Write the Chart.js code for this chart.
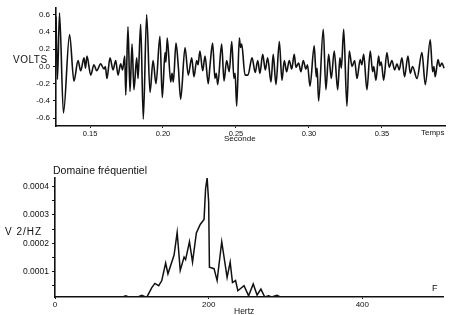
<!DOCTYPE html>
<html>
<head>
<meta charset="utf-8">
<script src="https://cdn.jsdelivr.net/npm/chart.js@4/dist/chart.umd.min.js"></script>
<style>
  body { margin: 0; background: #fff; }
  #wrap { position: relative; width: 460px; height: 315px; overflow: hidden; font-family: "Liberation Sans", Arial, sans-serif; color: #111; }
  canvas { position: absolute; left: 0; }
  .lbl { position: absolute; font-size: 9px; line-height: 1; white-space: nowrap; }
</style>
</head>
<body>
<div id="wrap">
  <canvas id="timeChart" width="460" height="140" style="top:0"></canvas>
  <canvas id="freqChart" width="460" height="175" style="top:140px"></canvas>
  <div class="lbl" style="left:13px;top:55px;font-size:10px;letter-spacing:0.5px">VOLTS</div>
  <div class="lbl" style="left:421px;top:129px;font-size:8px">Temps</div>
  <div class="lbl" style="left:224px;top:135px;font-size:8px">Seconde</div>
  <div class="lbl" style="left:53px;top:165px;font-size:10.5px">Domaine fréquentiel</div>
  <div class="lbl" style="left:5px;top:227px;font-size:10px;letter-spacing:1px">V 2/HZ</div>
  <div class="lbl" style="left:234px;top:307px;font-size:8.5px">Hertz</div>
  <div class="lbl" style="left:432px;top:284px;font-size:9px">F</div>
</div>
<script>
// time domain signal (seconds, volts)
const tTimes = [
  0.1267, 0.1277, 0.1291, 0.1318, 0.1360, 0.1390, 0.1418, 0.1436, 0.1459, 0.1469,
  0.1479, 0.1505, 0.1527, 0.1546, 0.1573, 0.1596, 0.1605, 0.1616, 0.1637, 0.1658,
  0.1676, 0.1692, 0.1710, 0.1723, 0.1738, 0.1745, 0.1760, 0.1774, 0.1788, 0.1801,
  0.1820, 0.1829, 0.1847, 0.1865, 0.1888, 0.1911, 0.1932, 0.1952, 0.1979, 0.1995,
  0.2014, 0.2020, 0.2029, 0.2053, 0.2062, 0.2071, 0.2089, 0.2105, 0.2121, 0.2151,
  0.2173, 0.2197, 0.2212, 0.2231, 0.2240, 0.2253, 0.2272, 0.2288, 0.2310, 0.2322,
  0.2340, 0.2356, 0.2365, 0.2375, 0.2402, 0.2418, 0.2436, 0.2454, 0.2471, 0.2486,
  0.2494, 0.2505, 0.2523, 0.2531, 0.2539, 0.2562, 0.2582, 0.2610, 0.2632, 0.2649,
  0.2664, 0.2683, 0.2701, 0.2717, 0.2740, 0.2755, 0.2774, 0.2797, 0.2815, 0.2831,
  0.2847, 0.2865, 0.2882, 0.2899, 0.2911, 0.2929, 0.2945, 0.2961, 0.2979, 0.2990,
  0.3007, 0.3036, 0.3050, 0.3056, 0.3066, 0.3098, 0.3116, 0.3135, 0.3153, 0.3173,
  0.3197, 0.3212, 0.3222, 0.3238, 0.3260, 0.3276, 0.3295, 0.3313, 0.3329, 0.3351,
  0.3362, 0.3375, 0.3397, 0.3420, 0.3436, 0.3444, 0.3459, 0.3477, 0.3486, 0.3495,
  0.3512, 0.3534, 0.3550, 0.3568, 0.3587, 0.3603, 0.3618, 0.3637, 0.3655, 0.3678,
  0.3694, 0.3710, 0.3740, 0.3774, 0.3797, 0.3831, 0.3847, 0.3856, 0.3865, 0.3884,
  0.3897, 0.3911, 0.3925
];
const tVolts = [
  0.58, -0.15, 0.62, -0.54, 0.37, -0.17, 0.07, -0.05, 0.10, -0.02,
  0.12, -0.10, 0.02, -0.05, 0.03, -0.03, 0.00, -0.14, 0.10, -0.04,
  0.07, -0.10, 0.03, -0.04, 0.12, -0.33, 0.46, -0.29, 0.26, -0.27,
  0.10, -0.14, 0.49, -0.61, 0.60, -0.30, 0.07, -0.20, 0.35, -0.36,
  0.16, 0.05, 0.33, -0.18, -0.08, -0.18, 0.27, 0.00, -0.38, 0.22,
  -0.10, 0.10, -0.12, 0.07, 0.02, 0.18, -0.05, 0.12, -0.20, 0.01,
  0.27, -0.14, -0.08, -0.21, 0.26, -0.17, 0.07, -0.06, 0.29, -0.14,
  -0.08, -0.46, 0.33, 0.22, 0.26, -0.10, -0.10, 0.10, -0.07, 0.07,
  -0.08, 0.14, -0.04, 0.10, -0.18, 0.14, -0.21, 0.29, -0.16, 0.07,
  -0.06, 0.07, -0.03, 0.14, -0.01, 0.04, -0.06, 0.07, -0.03, 0.02,
  -0.23, 0.24, -0.12, -0.02, -0.40, 0.43, -0.27, 0.14, -0.14, 0.18,
  -0.27, 0.10, -0.02, 0.43, -0.46, 0.18, 0.00, 0.07, -0.14, 0.08,
  0.02, 0.14, -0.27, 0.18, -0.06, 0.00, -0.16, 0.12, 0.01, 0.05,
  -0.16, 0.16, -0.01, 0.07, -0.04, 0.03, -0.04, 0.10, -0.12, 0.12,
  -0.08, 0.00, -0.14, 0.16, -0.21, 0.31, -0.06, 0.00, -0.12, 0.08,
  0.00, 0.04, -0.02
];
const tTickLabels = [0.15, 0.20, 0.25, 0.30, 0.35];
const vTickLabels = [-0.6, -0.4, -0.2, 0.0, 0.2, 0.4, 0.6];

// frequency domain (Hz, V2/Hz)
const fFreqs = [
  0, 88, 92, 96, 108, 113, 118, 120, 126, 130, 135, 139, 144, 147, 155, 159,
  163, 168, 170, 175, 179, 184, 189, 194, 196, 198, 200, 201, 207, 211, 217,
  224, 228, 231, 235, 238, 246, 252, 258, 263, 268, 273, 278, 282, 289, 293, 505
];
const fPower = [
  0.00001, 0.00001, 0.000014, 0.00001, 0.00001, 0.000016, 0.00001, 0.000012, 0.000043, 0.000058,
  0.00005, 0.000068, 0.00013, 0.000092, 0.000158, 0.000238, 0.000104, 0.000151, 0.000142, 0.000205,
  0.000133, 0.000236, 0.000266, 0.000284, 0.000392, 0.00043, 0.000345, 0.000115, 0.00011, 0.000068,
  0.000205, 0.000079, 0.000133, 0.000061, 0.000068, 0.000032, 0.00005, 0.000014, 0.000056, 0.000017,
  0.000038, 0.00001, 0.000014, 0.00001, 0.000016, 0.00001, 0.00001
];
const fTickLabels = [0, 200, 400];
const pTickLabels = [0.0001, 0.0002, 0.0003, 0.0004];
const pMinorTicks = [0.00005, 0.00015, 0.00025, 0.00035];

const tickFont = { family: 'Liberation Sans', size: 7.5 };
const ink = '#111';

new Chart(document.getElementById('timeChart'), {
  type: 'line',
  data: {
    datasets: [{
      data: tTimes.map((t, i) => ({ x: t, y: tVolts[i] })),
      borderColor: ink,
      borderWidth: 1.6,
      pointRadius: 0,
      cubicInterpolationMode: 'monotone'
    }]
  },
  options: {
    responsive: false,
    animation: false,
    layout: { padding: { left: 0, top: 5, right: 15, bottom: 0 } },
    plugins: { legend: { display: false }, tooltip: { enabled: false } },
    scales: {
      x: {
        type: 'linear',
        min: 0.1267,
        max: 0.3932,
        afterFit: (scale) => { scale.height = 14; },
        afterBuildTicks: (scale) => { scale.ticks = tTickLabels.map(v => ({ value: v })); },
        grid: { drawOnChartArea: false, tickLength: 2, color: ink },
        border: { color: ink, width: 1.6 },
        ticks: { font: tickFont, color: ink, padding: 1, maxRotation: 0, callback: (v) => v.toFixed(2) }
      },
      y: {
        min: -0.69,
        max: 0.68,
        afterFit: (scale) => { scale.width = 56; },
        afterBuildTicks: (scale) => { scale.ticks = vTickLabels.map(v => ({ value: v })); },
        grid: { drawOnChartArea: false, tickLength: 3, color: ink },
        border: { color: ink, width: 1.6 },
        ticks: { font: { family: 'Liberation Sans', size: 8 }, color: ink, padding: 3, callback: (v) => v.toFixed(1) }
      }
    }
  }
});

new Chart(document.getElementById('freqChart'), {
  type: 'line',
  data: {
    datasets: [{
      data: fFreqs.map((f, i) => ({ x: f, y: fPower[i] })),
      borderColor: ink,
      borderWidth: 1.5,
      pointRadius: 0,
      tension: 0
    }]
  },
  options: {
    responsive: false,
    animation: false,
    layout: { padding: { left: 0, top: 38, right: 17, bottom: 0 } },
    plugins: { legend: { display: false }, tooltip: { enabled: false } },
    scales: {
      x: {
        type: 'linear',
        min: 0,
        max: 505,
        afterFit: (scale) => { scale.height = 18; },
        afterBuildTicks: (scale) => { scale.ticks = fTickLabels.map(v => ({ value: v })); },
        grid: { drawOnChartArea: false, tickLength: 2, color: ink },
        border: { color: ink, width: 1.6 },
        ticks: { font: { family: 'Liberation Sans', size: 8 }, color: ink, padding: 1, maxRotation: 0, callback: (v) => String(v) }
      },
      y: {
        min: 0.00001,
        max: 0.00043,
        afterFit: (scale) => { scale.width = 55; },
        afterBuildTicks: (scale) => {
          scale.ticks = pTickLabels.concat(pMinorTicks).sort((a, b) => a - b).map(v => ({ value: v }));
        },
        grid: { drawOnChartArea: false, tickLength: 3, color: ink },
        border: { color: ink, width: 1.6 },
        ticks: {
          font: { family: 'Liberation Sans', size: 8.5 }, color: ink, padding: 3, autoSkip: false,
          callback: (v) => pTickLabels.some(p => Math.abs(p - v) < 1e-9) ? v.toFixed(4) : ''
        }
      }
    }
  }
});
</script>
</body>
</html>
